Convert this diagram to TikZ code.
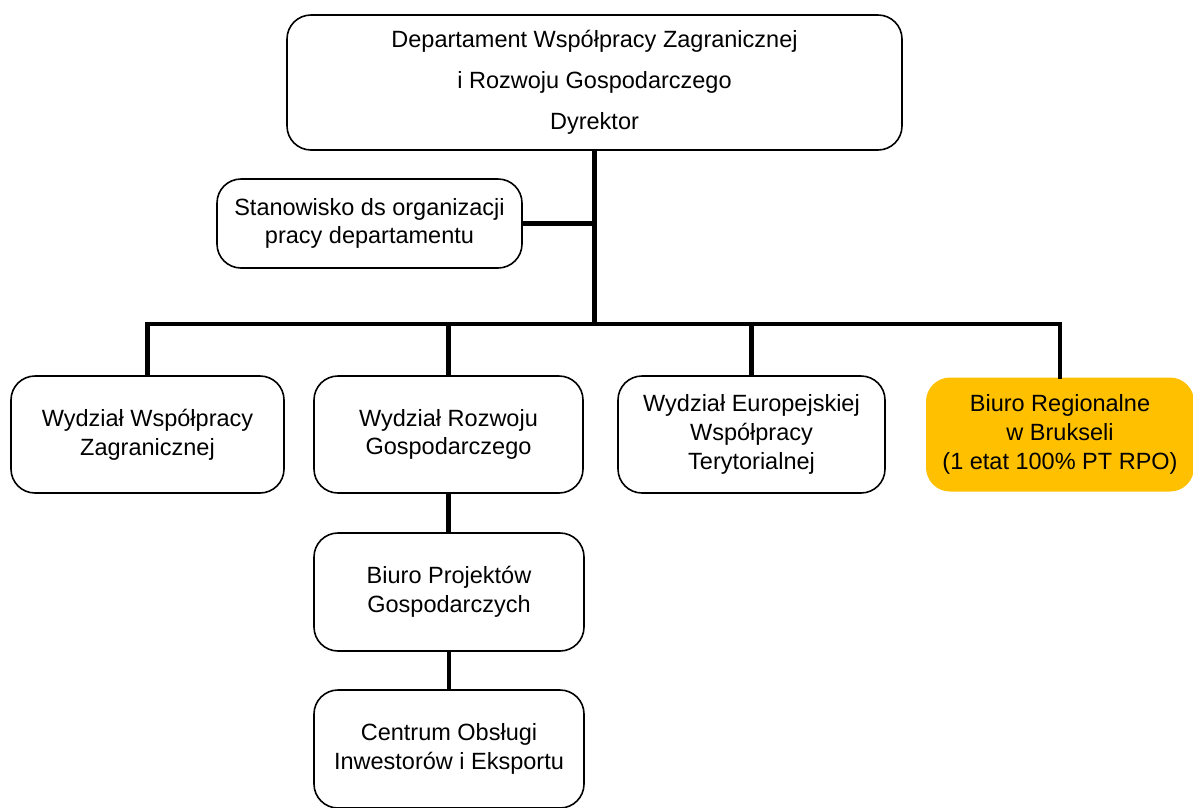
\documentclass[tikz,border=0pt]{standalone}
\usepackage{fontspec}
\setmainfont{Liberation Sans}
\begin{document}
\begin{tikzpicture}[x=1pt,y=-1pt,
  unit/.style={draw=black, line width=1.6pt, rounded corners=24pt, align=center,
    inner sep=0pt, font=\fontsize{23.5}{28.8}\selectfont},
  office/.style={unit, draw=none, fill=orgfill},
  link/.style={line width=4.5pt, line cap=rect}]
\definecolor{orgfill}{HTML}{FFC000}
\useasboundingbox (0,0) rectangle (1193,807);

% director
\node[unit, minimum width=615pt, minimum height=135pt,
  font=\fontsize{23.5}{41}\selectfont] (dyr) at (594.5,82.5)
  {Departament Współpracy Zagranicznej\\i Rozwoju Gospodarczego\\Dyrektor};
% staff position
\node[unit, minimum width=305pt, minimum height=89pt] (stan) at (369.5,223.5)
  {Stanowisko ds organizacji\\pracy departamentu};
% divisions
\node[unit, minimum width=273pt, minimum height=117pt] (wwz) at (147.5,434.5)
  {Wydział Współpracy\\Zagranicznej};
\node[unit, minimum width=269pt, minimum height=117pt] (wrg) at (448.5,434.5)
  {Wydział Rozwoju\\Gospodarczego};
\node[unit, minimum width=267pt, minimum height=117pt] (wewt) at (751.5,434.5)
  {Wydział Europejskiej\\Współpracy\\Terytorialnej};
\node[office, minimum width=268pt, minimum height=114pt] (brb) at (1060,434.5)
  {Biuro Regionalne\\w Brukseli\\(1 etat 100\% PT RPO)};
\node[unit, minimum width=270pt, minimum height=118pt] (bpg) at (449,592)
  {Biuro Projektów\\Gospodarczych};
\node[unit, minimum width=270pt, minimum height=118pt] (coi) at (449,749)
  {Centrum Obsługi\\Inwestorów i Eksportu};

% connectors
\coordinate (bus) at (0,324);
\draw[link] (dyr.south) -- (dyr.south |- bus);
\draw[link] (stan.east) -- (stan.east -| dyr.south);
\draw[link] (wwz.north |- bus) -- (brb.north |- bus);
\draw[link] (wwz.north |- bus) -- (wwz.north);
\draw[link] (wrg.north |- bus) -- (wrg.north);
\draw[link] (wewt.north |- bus) -- (wewt.north);
\draw[link] (brb.north |- bus) -- (brb.north);
\draw[link] (wrg.south) -- (wrg.south |- bpg.north);
\draw[link] (bpg.south) -- (bpg.south |- coi.north);
\end{tikzpicture}
\end{document}
